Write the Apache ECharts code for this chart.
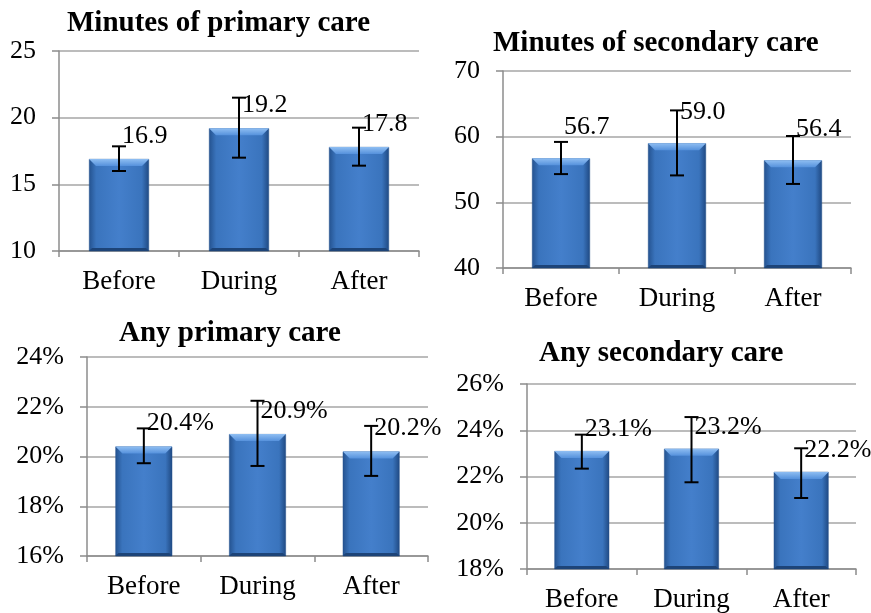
<!DOCTYPE html>
<html>
<head>
<meta charset="utf-8">
<script src="https://cdn.jsdelivr.net/npm/echarts@6/dist/echarts.min.js"></script>
<style>
  html, body { margin: 0; padding: 0; background: #fff; }
  #main { width: 871px; height: 613px; }
</style>
</head>
<body>
<div id="main"></div>
<script>
// categories shared by all four panels
var categories = ['Before', 'During', 'After'];

// minutes of primary care
var primaryMinutes = [16.9, 19.2, 17.8];
var primaryMinutesLow = [16.0, 17.0, 16.4];
var primaryMinutesHigh = [17.85, 21.5, 19.25];

// minutes of secondary care
var secondaryMinutes = [56.7, 59.0, 56.4];
var secondaryMinutesLow = [54.3, 54.1, 52.8];
var secondaryMinutesHigh = [59.2, 64.0, 60.1];

// any primary care (%)
var anyPrimary = [20.4, 20.9, 20.2];
var anyPrimaryLow = [19.73, 19.62, 19.22];
var anyPrimaryHigh = [21.13, 22.24, 21.23];

// any secondary care (%)
var anySecondary = [23.1, 23.2, 22.2];
var anySecondaryLow = [22.34, 21.75, 21.07];
var anySecondaryHigh = [23.81, 24.57, 23.22];

var FONT = '"Liberation Serif", "Times New Roman", serif';

var panels = [
  { title: 'Minutes of primary care', tx: 67, ty: 9,
    grid: { left: 59, top: 51, width: 360, height: 200 },
    min: 10, max: 25, interval: 5, pct: false, labelDy: -23,
    values: primaryMinutes, low: primaryMinutesLow, high: primaryMinutesHigh },
  { title: 'Minutes of secondary care', tx: 493, ty: 29,
    grid: { left: 503, top: 71, width: 348, height: 197 },
    min: 40, max: 70, interval: 10, pct: false, labelDy: -31,
    values: secondaryMinutes, low: secondaryMinutesLow, high: secondaryMinutesHigh },
  { title: 'Any primary care', tx: 119, ty: 319,
    grid: { left: 87, top: 357, width: 341, height: 199 },
    min: 16, max: 24, interval: 2, pct: true, labelDy: -23,
    values: anyPrimary, low: anyPrimaryLow, high: anyPrimaryHigh },
  { title: 'Any secondary care', tx: 539, ty: 339,
    grid: { left: 527, top: 384, width: 329, height: 186 },
    min: 18, max: 26, interval: 2, pct: true, labelDy: -22,
    values: anySecondary, low: anySecondaryLow, high: anySecondaryHigh }
];

var barFill = new echarts.graphic.LinearGradient(0, 0, 1, 0, [
  { offset: 0, color: '#24528f' },
  { offset: 0.12, color: '#3a74bd' },
  { offset: 0.5, color: '#447fcb' },
  { offset: 0.88, color: '#3a74bd' },
  { offset: 1, color: '#1f4982' }
]);

function errorRender(params, api) {
  var idx = api.value(0);
  var lo = api.coord([idx, api.value(1)]);
  var hi = api.coord([idx, api.value(2)]);
  var top = api.coord([idx, api.value(3)]);
  var bottom = api.coord([idx, api.value(4)]);
  var bw = api.size([1, 0])[0] * 0.5;
  var x0 = top[0] - bw / 2, x1 = top[0] + bw / 2;
  var bev = 7;
  var capW = 7;
  var lineStyle = { stroke: '#000', lineWidth: 2 };
  return {
    type: 'group',
    children: [
      { type: 'polygon',
        shape: { points: [[x0, top[1]], [x1, top[1]], [x1 - bev, top[1] + bev], [x0 + bev, top[1] + bev]] },
        style: { fill: new echarts.graphic.LinearGradient(0, 0, 0, 1, [
          { offset: 0, color: '#8fbef2' }, { offset: 1, color: '#5591dc' }]) } },
      { type: 'polygon',
        shape: { points: [[x0, bottom[1]], [x1, bottom[1]], [x1 - 3, bottom[1] - 3], [x0 + 3, bottom[1] - 3]] },
        style: { fill: '#1d4478' } },
      { type: 'line', shape: { x1: lo[0], y1: lo[1], x2: hi[0], y2: hi[1] }, style: lineStyle },
      { type: 'line', shape: { x1: hi[0] - capW, y1: hi[1], x2: hi[0] + capW, y2: hi[1] }, style: lineStyle },
      { type: 'line', shape: { x1: lo[0] - capW, y1: lo[1], x2: lo[0] + capW, y2: lo[1] }, style: lineStyle }
    ]
  };
}

var option = {
  backgroundColor: '#fff',
  animation: false,
  title: [], grid: [], xAxis: [], yAxis: [], series: []
};

panels.forEach(function (p, i) {
  option.title.push({
    text: p.title, left: p.tx, top: p.ty, padding: 0,
    textStyle: { fontFamily: FONT, fontWeight: 'bold', fontSize: 29, color: '#000' }
  });
  option.grid.push(p.grid);
  option.xAxis.push({
    type: 'category', gridIndex: i, data: categories,
    axisLine: { lineStyle: { color: '#8c8c8c', width: 1.5 } },
    axisTick: { show: true, length: 6, lineStyle: { color: '#8c8c8c', width: 1.5 } },
    axisLabel: { fontFamily: FONT, fontSize: 27, color: '#000', margin: 17 }
  });
  option.yAxis.push({
    type: 'value', gridIndex: i, min: p.min, max: p.max, interval: p.interval,
    axisLine: { show: true, lineStyle: { color: '#8c8c8c', width: 1.5 } },
    axisTick: { show: true, length: 7, lineStyle: { color: '#8c8c8c', width: 1.5 } },
    splitLine: { lineStyle: { color: '#a6a6a6', width: 1.5 } },
    axisLabel: { fontFamily: FONT, fontSize: 26, color: '#000', margin: 23,
      formatter: p.pct ? '{value}%' : '{value}' }
  });
  option.series.push({
    type: 'bar', xAxisIndex: i, yAxisIndex: i, data: p.values, barWidth: '50%',
    itemStyle: { color: barFill, borderColor: '#24508c', borderWidth: 0.5 },
    label: {
      show: true, position: ['50%', p.labelDy], offset: [3, 0],
      align: 'left', verticalAlign: 'middle',
      fontFamily: FONT, fontSize: 26, color: '#000',
      formatter: function (d) { return d.value.toFixed(1) + (p.pct ? '%' : ''); }
    }
  });
  var errData = p.values.map(function (v, k) { return [k, p.low[k], p.high[k], v, p.min]; });
  option.series.push({
    type: 'custom', xAxisIndex: i, yAxisIndex: i, data: errData,
    renderItem: errorRender, z: 3,
    encode: { x: 0, y: [1, 2] }
  });
});

echarts.init(document.getElementById('main')).setOption(option);
</script>
</body>
</html>
